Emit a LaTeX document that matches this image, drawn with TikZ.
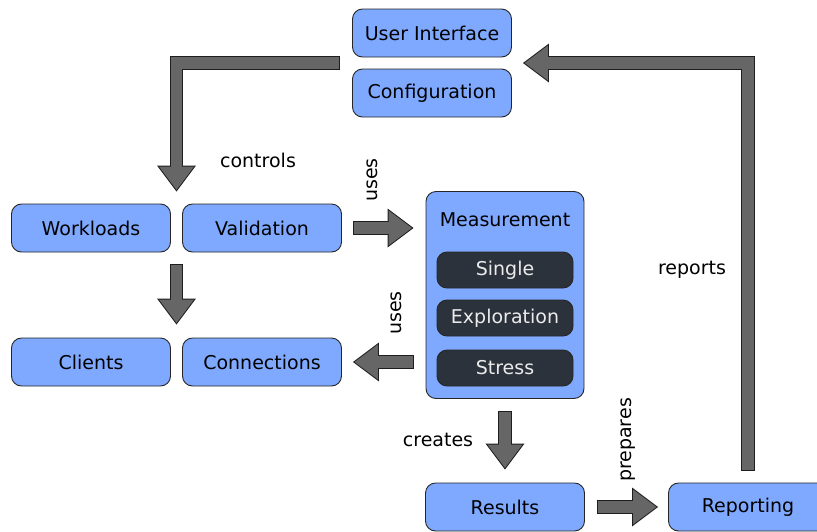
\documentclass[tikz,border=0pt]{standalone}
\usepackage{fontspec}
\setmainfont{DejaVu Sans}
\usetikzlibrary{arrows.meta,calc}
\definecolor{boxblue}{RGB}{127,169,255}
\definecolor{boxdark}{RGB}{44,50,60}
\definecolor{arrowgray}{RGB}{102,102,102}
\definecolor{arrowline}{RGB}{30,30,30}

\begin{document}
\begin{tikzpicture}[x=1pt, y=-1pt,
  every node/.style={font=\fontsize{19}{23}\selectfont},
  box/.style={draw=black!85, line width=0.9pt, fill=boxblue, rounded corners=10pt,
    minimum width=159pt, minimum height=48pt, inner sep=0pt},
  subbox/.style={box, fill=boxdark, text=white!92!black, minimum width=136pt, minimum height=36pt},
  fat/.style={draw=arrowgray, line width=11.6pt, line join=miter,
    -{Triangle[length=23.3pt, width=35pt, line width=0pt]}, shorten >=1.7pt, shorten <=1pt,
    preaction={draw=arrowline, line width=13.6pt,
      -{Triangle[length=26pt, width=39pt, line width=0pt]}, shorten >=0pt, shorten <=0pt}}
  ]
  \useasboundingbox (0,0) rectangle (817,531);

  % boxes
  \node[box] (ui) at (432,33) {User Interface};
  \node[box] (config) at (432,93) {Configuration};
  \node[box] (work) at (91,228) {Workloads};
  \node[box] (valid) at (262,228) {Validation};
  \node[box] (clients) at (91,362) {Clients};
  \node[box] (conn) at (262,362) {Connections};
  \node[box, minimum width=158pt, minimum height=207pt] (meas) at (505,295) {};
  \node (meastitle) at (505,220) {Measurement};
  \node[subbox] (single) at (505,270) {Single};
  \node[subbox] (explore) at (505,318) {Exploration};
  \node[subbox] (stress) at (505,368) {Stress};
  \node[box] (results) at (505,507) {Results};
  \node[box] (report) at (748,507) {Reporting};

  % arrow ends
  \coordinate (ctrlfrom) at ($(ui.south west)!.5!(config.north west)+(-12,0)$);
  \coordinate (ctrlto) at ($(work.north east)!.5!(valid.north west)+(0,-12)$);
  \coordinate (downfrom) at ($(work.south east)!.5!(valid.south west)+(0,12)$);
  \coordinate (downto) at ($(clients.north east)!.5!(conn.north west)+(0,-13)$);
  \coordinate (reportto) at ($(ui.south east)!.5!(config.north east)+(11,0)$);

  \draw[fat] (ctrlfrom) -| (ctrlto);
  \draw[fat] (downfrom) -- (downto);
  \draw[fat] ($(valid.east)+(11,0)$) -- ($(meas.west |- valid.east)+(-12,0)$);
  \draw[fat] ($(meas.west |- conn.east)+(-12,0)$) -- ($(conn.east)+(11,0)$);
  \draw[fat] ($(meas.south)+(0,12)$) -- ($(results.north)+(0,-13)$);
  \draw[fat] ($(results.east)+(12,0)$) -- ($(report.west)+(-10,0)$);
  \draw[fat] ($(report.north)+(0,-12)$) |- (reportto);

  % labels
  \node (ctrllbl) at (258,160) {controls};
  \node[rotate=90] (useslbl) at (372,180) {uses};
  \node[rotate=90] (connlbl) at (396,313) {uses};
  \node (createslbl) at (438,440) {creates};
  \node[rotate=90] (prepareslbl) at (628,440) {prepares};
  \node (reportslbl) at (692,270) {reports};
\end{tikzpicture}
\end{document}
